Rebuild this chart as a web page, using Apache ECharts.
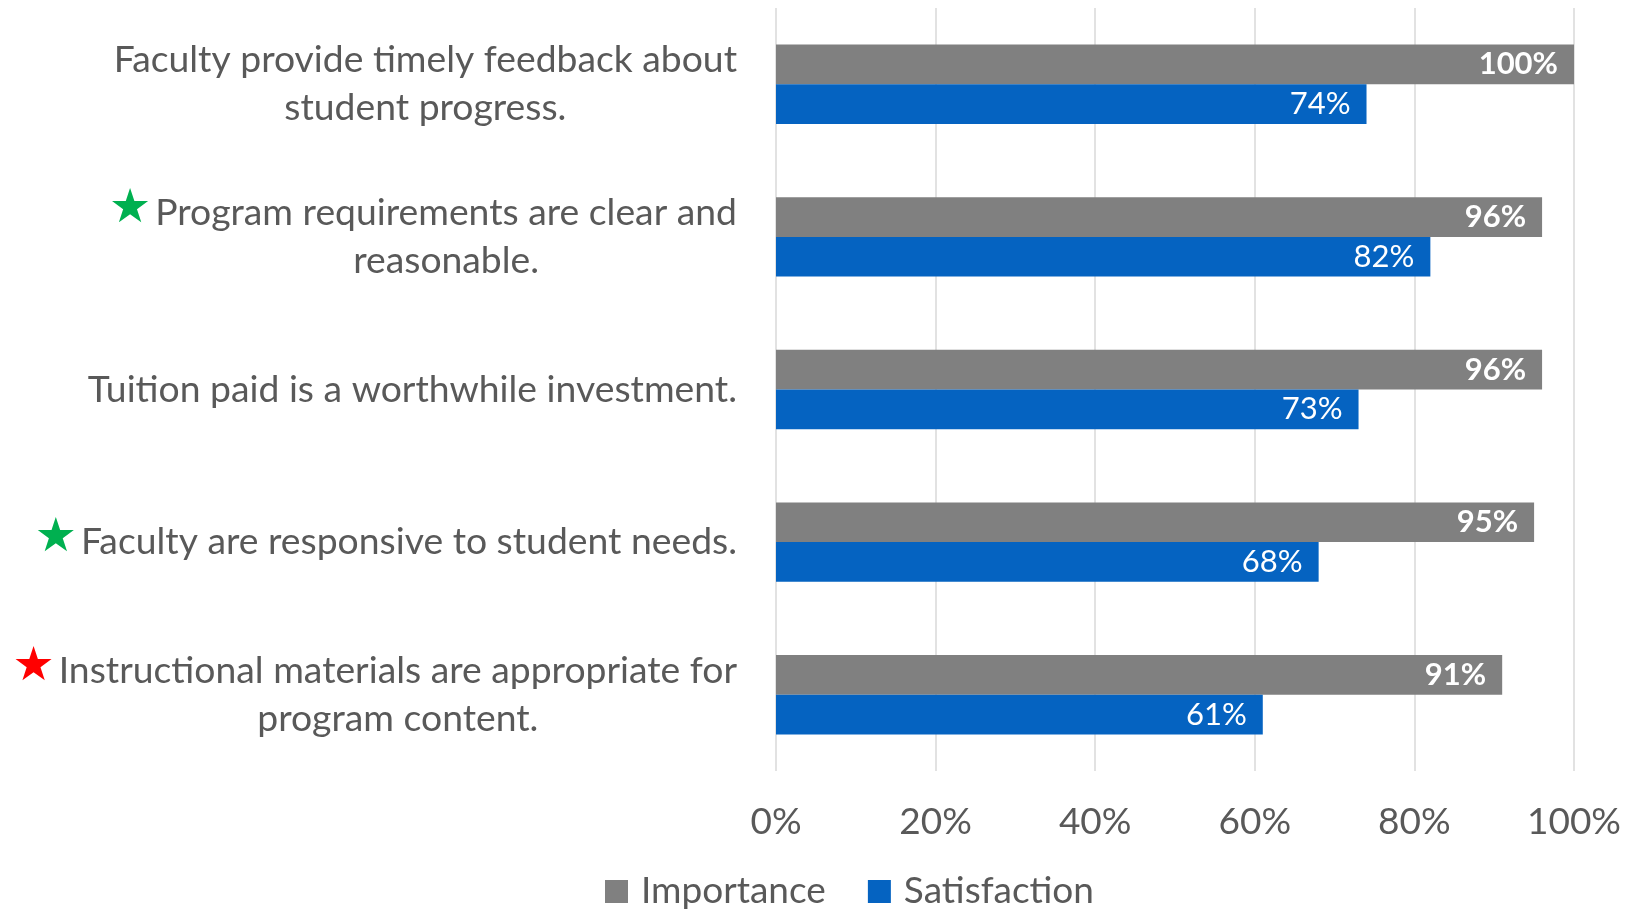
<!DOCTYPE html>
<html>
<head>
<meta charset="utf-8">
<script src="https://cdn.jsdelivr.net/npm/echarts@6/dist/echarts.min.js"></script>
<style>
html,body{margin:0;padding:0;background:#fff;}
#c{width:1633px;height:910px;}
</style>
</head>
<body>
<div id="c"></div>
<script>
const categories = [
  'Faculty provide timely feedback about\nstudent progress.',
  'Program requirements are clear and\nreasonable.',
  'Tuition paid is a worthwhile investment.',
  'Faculty are responsive to student needs.',
  'Instructional materials are appropriate for\nprogram content.'
];
const stars = ['', 'g', '', 'g', 'r'];
const importance = [100, 96, 96, 95, 91];
const satisfaction = [74, 82, 73, 68, 61];
const seriesNames = ['Importance', 'Satisfaction'];
const tickSuffix = '%';

const FONT = 'Lato';
const TXT = '#595959';
const CAT_SIZE = 37.3;
const LINE_H = 48;

const starStyle = (color) => ({
  fontFamily: 'DejaVu Sans', fontSize: 47, color: color, lineHeight: LINE_H,
  padding: [0, 4, 6, 0], align: 'left'
});

const chart = echarts.init(document.getElementById('c'));
chart.setOption({
  animation: false,
  grid: { left: 776, right: 59, top: 8, bottom: 139, containLabel: false, outerBoundsMode: 'none' },
  legend: {
    data: seriesNames,
    left: 600, top: 868,
    icon: 'rect', itemWidth: 23, itemHeight: 23, itemGap: 42,
    textStyle: { fontFamily: FONT, fontSize: 37, color: TXT, padding: [0, 0, 0, 8] }
  },
  xAxis: {
    type: 'value', min: 0, max: 100, interval: 20,
    axisLine: { show: false }, axisTick: { show: false },
    splitLine: { show: true, lineStyle: { color: '#D9D9D9', width: 1.5 } },
    axisLabel: {
      formatter: (v) => v + tickSuffix, margin: 33,
      fontFamily: FONT, fontSize: 37, color: TXT
    }
  },
  yAxis: {
    type: 'category', data: categories, inverse: true,
    axisLine: { show: false }, axisTick: { show: false },
    axisLabel: {
      margin: 39, align: 'right',
      fontFamily: FONT, fontSize: CAT_SIZE, color: TXT, lineHeight: LINE_H,
      formatter: (value, index) => {
        const lines = value.split('\n');
        const s = stars[index];
        return lines.map((ln, i) => {
          if (i === 0) {
            return (s ? '{' + s + '|★}' : '') + '{t|' + ln + '}';
          }
          return (s ? '{sp|★}' : '') + '{c|' + ln + '}';
        }).join('\n');
      },
      rich: {
        t: { fontFamily: FONT, fontSize: CAT_SIZE, color: TXT, lineHeight: LINE_H },
        c: { fontFamily: FONT, fontSize: CAT_SIZE, color: TXT, lineHeight: LINE_H, align: 'center' },
        g: starStyle('#00B050'),
        r: starStyle('#FF0000'),
        sp: starStyle('rgba(0,0,0,0)')
      }
    }
  },
  series: [
    {
      name: seriesNames[0], type: 'bar', data: importance,
      barGap: '0%', barCategoryGap: '48%',
      itemStyle: { color: '#808080' },
      label: {
        show: true, position: 'insideRight', distance: 16,
        formatter: (p) => p.value + '%',
        fontFamily: FONT, fontSize: 31, fontWeight: 'bold', color: '#fff'
      }
    },
    {
      name: seriesNames[1], type: 'bar', data: satisfaction,
      barGap: '0%', barCategoryGap: '48%',
      itemStyle: { color: '#0563C1' },
      label: {
        show: true, position: 'insideRight', distance: 16,
        formatter: (p) => p.value + '%',
        fontFamily: FONT, fontSize: 31, color: '#fff'
      }
    }
  ]
});
</script>
</body>
</html>
